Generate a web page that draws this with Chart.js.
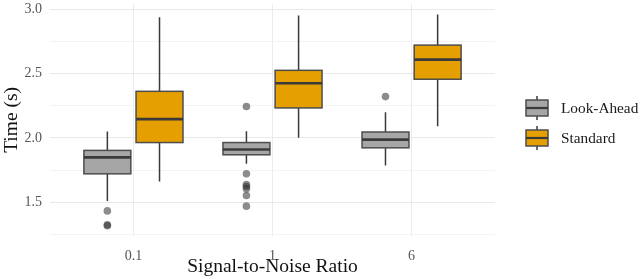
<!DOCTYPE html>
<html>
<head>
<meta charset="utf-8">
<script src="https://cdn.jsdelivr.net/npm/chart.js@4"></script>
<style>
html,body{margin:0;padding:0;background:#fff;}
#wrap{width:640px;height:279px;position:relative;}
</style>
</head>
<body>
<div id="wrap"><canvas id="c" width="640" height="279"></canvas></div>
<script>
// ---- data ----
const categories = ["0.1", "1", "6"];
const seriesNames = ["Look-Ahead", "Standard"];

const lookAheadLow    = [1.510, 1.800, 1.785];
const lookAheadQ1     = [1.721, 1.869, 1.923];
const lookAheadMedian = [1.849, 1.910, 1.987];
const lookAheadQ3     = [1.903, 1.964, 2.046];
const lookAheadHigh   = [2.049, 2.051, 2.200];
const lookAheadOutliers = [[1.433, 1.325, 1.318], [2.244, 1.722, 1.638, 1.622, 1.605, 1.553, 1.470], [2.321]];

const standardLow    = [1.662, 2.002, 2.090];
const standardQ1     = [1.964, 2.233, 2.456];
const standardMedian = [2.146, 2.425, 2.608];
const standardQ3     = [2.362, 2.525, 2.721];
const standardHigh   = [2.938, 2.951, 2.959];
const standardOutliers = [[], [], []];

const yTicks = [1.25, 1.5, 1.75, 2.0, 2.25, 2.5, 2.75, 3.0];

// ---- styling ----
const FONT = "'Liberation Serif', 'DejaVu Serif', serif";
const fills = ["#a6a6a6", "#e69f00"];
const lineCol = "#3a3a3a";
const dodge = 0.1875, boxHalf = 0.16875;

const groups = [
  {low: lookAheadLow, q1: lookAheadQ1, med: lookAheadMedian, q3: lookAheadQ3, high: lookAheadHigh, out: lookAheadOutliers, off: -dodge},
  {low: standardLow, q1: standardQ1, med: standardMedian, q3: standardQ3, high: standardHigh, out: standardOutliers, off: dodge}
];

const outlierDatasets = groups.map((g, gi) => ({
  type: 'scatter',
  label: seriesNames[gi],
  data: g.out.flatMap((arr, ci) => arr.map(v => ({x: ci + 1 + g.off, y: v}))),
  pointRadius: 3.8,
  pointHoverRadius: 3.8,
  backgroundColor: 'rgba(45,45,45,0.55)',
  borderWidth: 0
}));

const boxPlugin = {
  id: 'boxes',
  beforeDatasetsDraw(chart) {
    const ctx = chart.ctx, xs = chart.scales.x, ys = chart.scales.y;
    groups.forEach((g, gi) => {
      categories.forEach((c, ci) => {
        const xc = ci + 1 + g.off;
        const px = xs.getPixelForValue(xc);
        const l = xs.getPixelForValue(xc - boxHalf), r = xs.getPixelForValue(xc + boxHalf);
        const yq1 = ys.getPixelForValue(g.q1[ci]), yq3 = ys.getPixelForValue(g.q3[ci]);
        const ym = ys.getPixelForValue(g.med[ci]);
        const ylo = ys.getPixelForValue(g.low[ci]), yhi = ys.getPixelForValue(g.high[ci]);
        ctx.save();
        ctx.strokeStyle = lineCol;
        ctx.lineWidth = 1.5;
        ctx.beginPath();
        ctx.moveTo(px, yhi); ctx.lineTo(px, yq3);
        ctx.moveTo(px, yq1); ctx.lineTo(px, ylo);
        ctx.stroke();
        ctx.fillStyle = fills[gi];
        ctx.fillRect(l, yq3, r - l, yq1 - yq3);
        ctx.strokeStyle = '#4d4d4d';
        ctx.lineWidth = 1.5;
        ctx.strokeRect(l, yq3, r - l, yq1 - yq3);
        ctx.strokeStyle = lineCol;
        ctx.lineWidth = 2.6;
        ctx.beginPath();
        ctx.moveTo(l, ym); ctx.lineTo(r, ym);
        ctx.stroke();
        ctx.restore();
      });
    });
  },
  afterDraw(chart) {
    const ctx = chart.ctx;
    ctx.save();
    const kx = 526, kw = 22, kh = 16;
    const keyY = [108, 138];
    seriesNames.forEach((name, i) => {
      const cy = keyY[i];
      const cx = kx + kw / 2;
      ctx.strokeStyle = lineCol;
      ctx.lineWidth = 1.5;
      ctx.beginPath();
      ctx.moveTo(cx, cy - 12); ctx.lineTo(cx, cy + 12);
      ctx.stroke();
      ctx.fillStyle = fills[i];
      ctx.fillRect(kx, cy - kh / 2, kw, kh);
      ctx.strokeStyle = '#4d4d4d';
      ctx.strokeRect(kx, cy - kh / 2, kw, kh);
      ctx.strokeStyle = lineCol;
      ctx.lineWidth = 2.2;
      ctx.beginPath();
      ctx.moveTo(kx, cy); ctx.lineTo(kx + kw, cy);
      ctx.stroke();
      ctx.fillStyle = '#1a1a1a';
      ctx.font = "15.3px " + FONT;
      ctx.textBaseline = 'middle';
      ctx.textAlign = 'left';
      ctx.fillText(name, 561, cy + 1);
    });
    ctx.restore();
  }
};

new Chart(document.getElementById('c'), {
  type: 'scatter',
  data: {datasets: outlierDatasets},
  options: {
    responsive: false,
    animation: false,
    events: [],
    layout: {padding: {left: 0, right: 145, top: 1.5, bottom: 0}},
    plugins: {legend: {display: false}, tooltip: {enabled: false}},
    scales: {
      x: {
        type: 'linear',
        min: 0.4, max: 3.6,
        afterBuildTicks(s) { s.ticks = categories.map((c, i) => ({value: i + 1})); },
        afterFit(s) { s.height = 43; s.paddingLeft = 0; s.paddingRight = 0; },
        grid: {color: '#ebebeb', lineWidth: 1, drawTicks: false},
        border: {display: false},
        ticks: {
          callback: (v) => categories[Math.round(v) - 1],
          color: '#555', font: {family: FONT, size: 14}, padding: 12, maxRotation: 0
        },
        title: {display: true, text: 'Signal-to-Noise Ratio', color: '#111', font: {family: FONT, size: 19.5}, padding: {top: 0, bottom: 0}}
      },
      y: {
        type: 'linear',
        min: 1.238, max: 3.042,
        afterBuildTicks(s) { s.ticks = yTicks.map(v => ({value: v})); },
        afterFit(s) { s.width = 50; s.paddingTop = 0; s.paddingBottom = 0; },
        grid: {
          color: (c) => (Math.abs(c.tick.value * 2 - Math.round(c.tick.value * 2)) < 1e-6 ? '#e9e9e9' : '#f3f3f3'),
          lineWidth: 1, drawTicks: false
        },
        border: {display: false},
        ticks: {
          callback: (v) => (Math.abs(v * 2 - Math.round(v * 2)) < 1e-6 ? v.toFixed(1) : ''),
          color: '#555', font: {family: FONT, size: 14}, padding: 8
        },
        title: {display: true, text: 'Time (s)', color: '#111', font: {family: FONT, size: 19.5}, padding: {top: 0, bottom: 0}}
      }
    }
  },
  plugins: [boxPlugin]
});
</script>
</body>
</html>
